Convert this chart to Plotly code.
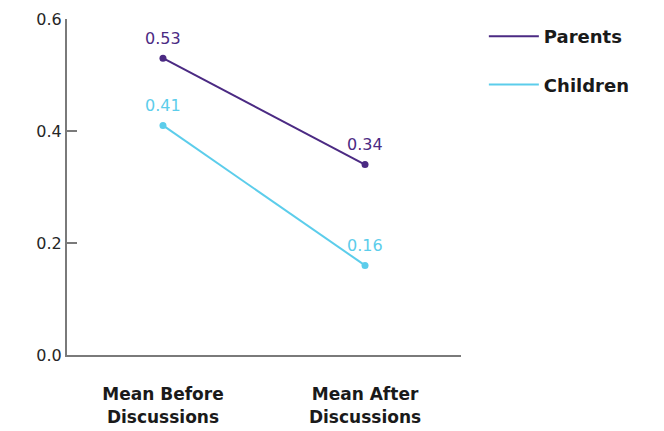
import plotly.graph_objects as go

# Mean scores before and after discussions
categories = ["Mean Before<br>Discussions", "Mean After<br>Discussions"]
parents = [0.53, 0.34]
children = [0.41, 0.16]
y_ticks = [0.0, 0.2, 0.4, 0.6]

PURPLE = "#4b2a83"
CYAN = "#5ccdeb"
FONT = "DejaVu Sans, sans-serif"
AXIS_GREY = "#7a7a7a"

fig = go.Figure()
annotations = []

for name, values, color in [("Parents", parents, PURPLE), ("Children", children, CYAN)]:
    # the plotted series
    fig.add_trace(go.Scatter(
        x=categories,
        y=values,
        name=name,
        mode="lines+markers",
        line=dict(color=color, width=2),
        marker=dict(color=color, size=7),
        showlegend=False,
        cliponaxis=False,
    ))
    # legend entry: a plain line sample
    fig.add_trace(go.Scatter(
        x=[None],
        y=[None],
        name=name,
        mode="lines",
        line=dict(color=color, width=2),
        legendgroup=name,
        showlegend=True,
    ))
    # value labels above each point
    for cat, v in zip(categories, values):
        annotations.append(dict(
            x=cat, y=v, xref="x", yref="y",
            text=f"{v:.2f}",
            showarrow=False,
            yanchor="middle",
            yshift=20,
            font=dict(size=16, color=color, family=FONT),
        ))

fig.update_layout(
    width=664,
    height=431,
    margin=dict(l=67, r=203, t=19, b=76),
    paper_bgcolor="white",
    plot_bgcolor="white",
    font=dict(family=FONT, color="#333333"),
    annotations=annotations,
    legend=dict(
        x=1.058,
        y=1.003,
        xanchor="left",
        yanchor="top",
        font=dict(size=18, color="#1a1a1a", family=FONT, weight="bold"),
        itemwidth=50,
        tracegroupgap=22,
    ),
)

fig.update_xaxes(
    type="category",
    range=[-0.475, 1.475],
    showline=True,
    linecolor=AXIS_GREY,
    linewidth=2,
    showgrid=False,
    ticks="",
    tickfont=dict(size=17, color="#1a1a1a", family=FONT, weight="bold"),
    ticklabelstandoff=23,
    automargin=False,
)

fig.update_yaxes(
    range=[0, 0.6],
    tickvals=y_ticks,
    tickformat=".1f",
    showline=True,
    linecolor=AXIS_GREY,
    linewidth=2,
    showgrid=False,
    zeroline=False,
    ticks="inside",
    ticklen=10,
    tickwidth=2,
    tickcolor=AXIS_GREY,
    tickfont=dict(size=16, color="#262626", family=FONT),
    automargin=False,
)

fig.write_html("out.html")
